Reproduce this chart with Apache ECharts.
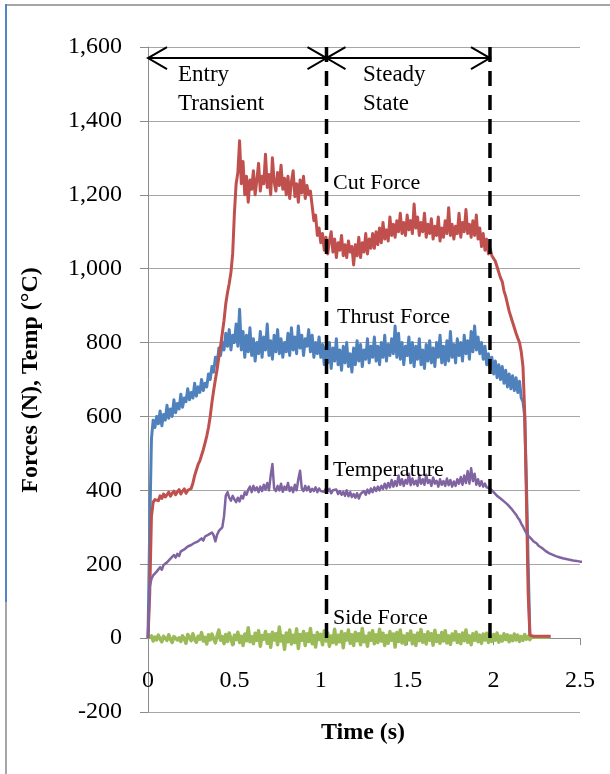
<!DOCTYPE html>
<html>
<head>
<meta charset="utf-8">
<script src="https://cdn.jsdelivr.net/npm/echarts@6/dist/echarts.min.js"></script>
<style>
  html, body { margin: 0; padding: 0; background: #fff; }
  #chart { width: 610px; height: 774px; }
</style>
</head>
<body>
<div id="chart"></div>
<script>
// Sampling interval of the logged signals (s)
const TIME_STEP = 0.01;

// Cut force (N), one sample per TIME_STEP starting at t = 0
const cutForce = [
  0,120,330,368,375,380,372,385,378,390,
  382,388,395,384,392,398,388,396,402,390,
  398,404,392,400,396,405,420,440,455,470,
  480,495,510,528,547,570,600,638,670,700,
  728,760,790,825,860,905,935,960,990,1040,
  1150,1230,1260,1346,1230,1290,1200,1250,1180,1240,
  1215,1265,1200,1240,1285,1210,1250,1230,1310,1220,
  1255,1200,1300,1235,1210,1260,1225,1280,1215,1245,
  1200,1250,1190,1235,1265,1195,1230,1180,1240,1205,
  1250,1190,1225,1200,1210,1170,1130,1145,1090,1110,
  1070,1095,1050,1085,1040,1075,1100,1045,1080,1030,
  1070,1050,1090,1035,1065,1030,1075,1045,1060,1010,
  1065,1035,1085,1030,1070,1045,1095,1040,1080,1055,
  1095,1055,1100,1065,1110,1070,1125,1080,1105,1075,
  1140,1090,1120,1085,1130,1100,1150,1095,1125,1090,
  1145,1105,1130,1095,1175,1110,1140,1090,1125,1100,
  1150,1085,1120,1095,1135,1080,1115,1090,1140,1075,
  1110,1085,1130,1095,1165,1090,1120,1080,1115,1095,
  1150,1085,1125,1100,1160,1095,1120,1085,1130,1090,
  1145,1080,1110,1060,1095,1050,1080,1040,1055,1035,
  1040,1020,1005,990,975,965,940,925,905,885,
  870,855,840,825,812,800,775,735,610,380,
  120,8,6,5,5,5,5,5,5,5,
  5,5,5,5
];

// Thrust force (N)
const thrustForce = [
  0,300,540,590,570,600,580,615,575,605,
  590,630,595,620,600,645,610,635,620,660,
  625,650,640,675,645,665,650,690,655,680,
  665,700,670,690,680,715,700,735,720,760,
  740,785,765,800,780,825,790,835,780,820,
  800,850,790,890,780,830,760,820,775,840,
  765,810,750,800,770,830,760,815,780,850,
  765,805,755,820,775,835,770,810,760,800,
  775,825,765,840,780,815,770,845,785,820,
  765,810,790,835,775,820,760,800,770,815,
  760,795,740,790,745,800,730,785,750,810,
  740,780,725,790,745,800,735,770,720,785,
  740,805,750,795,735,780,755,810,745,790,
  760,815,750,790,740,800,760,820,750,795,
  765,810,770,845,760,825,755,800,740,790,
  765,815,745,800,735,790,755,810,740,780,
  730,795,750,805,745,785,735,800,760,820,
  745,790,740,805,750,830,760,795,745,810,
  765,800,750,820,770,805,755,830,775,845,
  780,815,770,800,755,790,740,770,730,760,
  715,750,705,740,700,735,690,725,680,715,
  675,710,670,705,665,695,650,640,600,420,
  200,5
];

// Tool temperature (°C)
const temperature = [
  0,140,160,170,165,180,175,192,185,198,
  195,205,200,215,210,225,218,228,222,235,
  232,240,236,248,244,252,248,258,255,262,
  258,270,264,275,270,280,276,286,278,262,
  280,290,288,300,330,385,395,380,372,385,
  375,368,380,370,385,378,395,388,402,410,
  395,412,400,408,395,410,398,415,402,420,
  400,440,471,405,398,412,400,418,396,410,
  402,420,398,408,395,415,400,430,453,405,
  398,412,400,410,396,404,398,408,395,405,
  398,402,396,405,398,404,392,400,395,402,
  390,398,388,396,385,400,384,395,382,390,
  380,392,378,390,385,398,388,402,392,405,
  395,408,398,410,400,412,404,418,405,420,
  408,428,410,425,412,440,415,430,412,428,
  418,445,414,432,416,426,412,438,418,430,
  415,442,420,428,412,435,418,426,410,430,
  415,425,412,432,414,428,410,424,412,430,
  418,436,415,440,420,452,418,460,425,445,
  415,430,412,425,410,418,408,412,405,400,
  395,390,385,384,378,376,370,368,362,360,
  352,348,340,334,326,320,310,302,292,284,
  277,272,268,262,258,256,250,250,244,242,
  236,236,230,232,226,227,222,224,219,220,
  216,218,214,215,212,214,210,212,209,210,
  207,209,207
];

// Side force (N)
const sideForce = [
  0,-4,6,-8,3,-5,8,-2,-10,5,
  2,-6,9,-3,-12,4,7,-5,1,-9,
  6,-2,-14,10,3,-7,12,-4,-11,5,
  -3,15,-8,2,-16,9,-5,11,-2,-13,
  7,22,-6,4,-15,10,-9,14,-3,-18,
  8,-4,16,-12,5,-20,11,-7,28,-10,
  4,-15,13,-6,20,-22,7,-3,18,-14,
  9,-25,16,-5,12,-18,30,-8,6,-30,
  14,-10,22,-16,8,-12,25,-28,10,-6,
  18,-20,12,-9,26,-15,7,-24,15,-4,
  10,-18,20,-8,14,-22,6,-12,24,-16,
  8,-10,18,-26,12,-5,22,-14,9,-20,
  16,-7,12,-18,26,-10,5,-22,14,-6,
  20,-15,9,-12,24,-8,13,-20,7,-14,
  18,-6,11,-24,15,-9,22,-13,6,-17,
  12,-5,19,-15,8,-20,14,-7,23,-11,
  9,-16,17,-6,12,-19,21,-9,7,-14,
  15,-8,20,-13,6,-17,11,-5,18,-12,
  9,-15,14,-7,22,-11,6,-18,12,-6,
  16,-10,8,-14,11,-5,13,-12,7,-9,
  10,-6,14,-11,5,-8,12,-4,9,-10,
  6,-7,11,-5,8,-9,4,-6,10,-3,
  5,-4,3,6,2,4,3,3,2,3,
  3,2,3,3
];

// Phase boundaries (s): entry transient, then steady state
const phaseBounds = [0, 1.033, 1.979];
const phaseNames = [['Entry', 'Transient'], ['Steady', 'State']];
const phaseArrowLevel = 1570;

// Axis ranges
const timeRange = { min: 0, max: 2.5, step: 0.5 };
const valueRange = { min: -200, max: 1600, step: 200 };

const seriesNames = ['Cut Force', 'Thrust Force', 'Temperature', 'Side Force'];

function toPairs(values) {
  return values.map((v, i) => [+(i * TIME_STEP).toFixed(2), v]);
}

const SERIF = '"Liberation Serif", "Times New Roman", serif';

const GRID = { left: 148, right: 30, top: 47, bottom: 62 };
const CHART_H = 774;

function signalSeries(name, values, color, width, z) {
  return {
    name: name,
    type: 'line',
    data: toPairs(values),
    showSymbol: false,
    symbol: 'none',
    smooth: false,
    z: z,
    lineStyle: { color: color, width: width, join: 'round' },
    emphasis: { disabled: true },
    animation: false
  };
}

function boundarySeries(t) {
  return {
    type: 'line',
    data: [[t, valueRange.max], [t, 0]],
    symbol: 'none',
    z: 10,
    lineStyle: { color: '#000', width: 3.5, type: [15, 9] },
    emphasis: { disabled: true },
    animation: false
  };
}

function renderArrow(params, api) {
  const a = api.coord([api.value(0), api.value(2)]);
  const b = api.coord([api.value(1), api.value(2)]);
  const hx = 19, hy = 11;
  const st = { stroke: '#000', lineWidth: 2, fill: null };
  return {
    type: 'group',
    children: [
      { type: 'line', shape: { x1: a[0], y1: a[1], x2: b[0], y2: b[1] }, style: st },
      { type: 'polyline', shape: { points: [[a[0] + hx, a[1] - hy], [a[0], a[1]], [a[0] + hx, a[1] + hy]] }, style: st },
      { type: 'polyline', shape: { points: [[b[0] - hx, b[1] - hy], [b[0], b[1]], [b[0] - hx, b[1] + hy]] }, style: st }
    ]
  };
}

const arrowData = [];
for (let i = 0; i < phaseNames.length; i++) {
  arrowData.push([phaseBounds[i], phaseBounds[i + 1], phaseArrowLevel]);
}

function label(text, x, y, size, bold, rotation) {
  const font = (bold ? 'bold ' : '') + size + 'px ' + SERIF;
  return {
    type: 'text',
    x: x, y: y,
    rotation: rotation || 0,
    z: 100,
    style: {
      text: text, font: font, fill: '#000',
      align: rotation ? 'center' : 'left', verticalAlign: 'middle',
      textAlign: rotation ? 'center' : 'left', textVerticalAlign: 'middle'
    }
  };
}

// The time axis sits on the zero line of the force axis
const plotH = CHART_H - GRID.top - GRID.bottom;
const zeroOffset = -plotH * (0 - valueRange.min) / (valueRange.max - valueRange.min);

const chart = echarts.init(document.getElementById('chart'), null, { renderer: 'canvas' });

chart.setOption({
  animation: false,
  backgroundColor: '#fff',
  textStyle: { fontFamily: SERIF },
  grid: { left: GRID.left, right: GRID.right, top: GRID.top, bottom: GRID.bottom, containLabel: false, outerBoundsMode: 'none' },
  xAxis: {
    type: 'value',
    min: timeRange.min, max: timeRange.max, interval: timeRange.step,
    offset: zeroOffset,
    axisLine: { show: true, onZero: false, lineStyle: { color: '#8c8c8c', width: 1 } },
    axisTick: { show: true, inside: false, length: 7, lineStyle: { color: '#8c8c8c' } },
    axisLabel: { color: '#000', fontSize: 24, fontFamily: SERIF, margin: 31 },
    splitLine: { show: false }
  },
  yAxis: {
    type: 'value',
    min: valueRange.min, max: valueRange.max, interval: valueRange.step,
    axisLine: { show: true, lineStyle: { color: '#8c8c8c', width: 1 } },
    axisTick: { show: true, inside: false, length: 8, lineStyle: { color: '#8c8c8c' } },
    axisLabel: {
      color: '#000', fontSize: 24, fontFamily: SERIF, margin: 26,
      formatter: v => v.toLocaleString('en-US')
    },
    splitLine: { show: true, lineStyle: { color: '#a6a6a6', width: 1 } }
  },
  series: [
    signalSeries(seriesNames[1], thrustForce, '#4F81BD', 3, 2),
    signalSeries(seriesNames[3], sideForce, '#9BBB59', 3.5, 3),
    signalSeries(seriesNames[0], cutForce, '#C0504D', 3, 4),
    signalSeries(seriesNames[2], temperature, '#8064A2', 2.5, 5),
    boundarySeries(phaseBounds[1]),
    boundarySeries(phaseBounds[2]),
    {
      type: 'custom',
      data: arrowData,
      encode: { x: [0, 1], y: 2 },
      renderItem: renderArrow,
      z: 11,
      animation: false
    }
  ],
  graphic: [
    // outer frame
    { type: 'rect', shape: { x: 5, y: 4, width: 605, height: 2 }, style: { fill: '#a6a6a6' }, z: 100 },
    { type: 'rect', shape: { x: 5, y: 4, width: 2, height: 598 }, style: { fill: '#4f86c6' }, z: 100 },
    { type: 'rect', shape: { x: 5, y: 602, width: 2, height: 172 }, style: { fill: '#a6a6a6' }, z: 100 },
    // axis titles
    label('Forces (N), Temp (°C)', 31, 380, 24, true, Math.PI / 2),
    { type: 'text', x: 363, y: 733, z: 100,
      style: { text: 'Time (s)', font: 'bold 24px ' + SERIF, fill: '#000',
               align: 'center', verticalAlign: 'middle', textAlign: 'center', textVerticalAlign: 'middle' } },
    // phase names
    label(phaseNames[0][0], 178, 75, 23),
    label(phaseNames[0][1], 178, 104, 23),
    label(phaseNames[1][0], 363, 75, 23),
    label(phaseNames[1][1], 363, 104, 23),
    // series names
    label(seriesNames[0], 333, 183, 22),
    label(seriesNames[1], 337, 317, 22),
    label(seriesNames[2], 333, 470, 22),
    label(seriesNames[3], 333, 618, 22)
  ]
});
</script>
</body>
</html>
